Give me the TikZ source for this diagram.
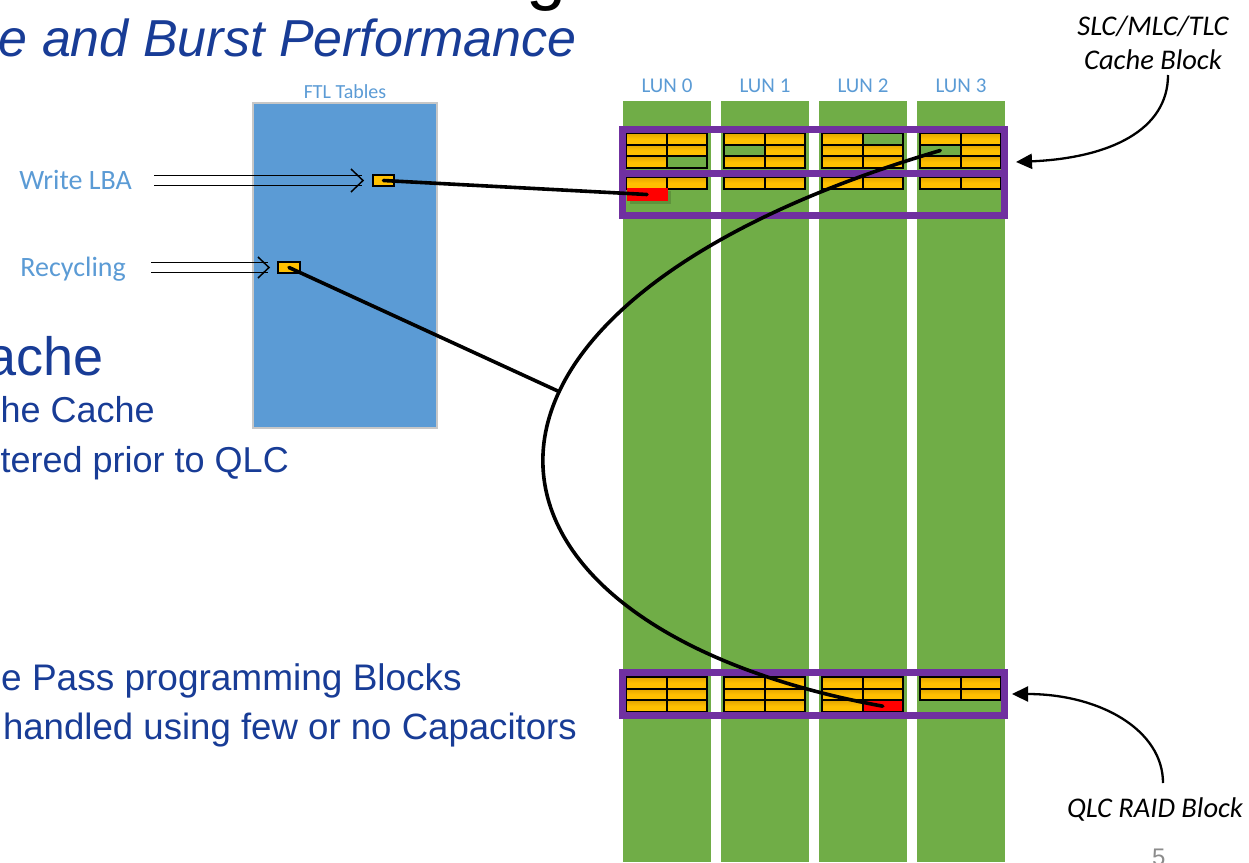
\documentclass[tikz,border=0pt]{standalone}
\usepackage{fontspec}
\setmainfont{Liberation Sans}
\newfontfamily\calibri{Carlito}
\usetikzlibrary{arrows.meta}
\definecolor{lungreen}{HTML}{70AD47}
\definecolor{cellyel}{HTML}{FFC000}
\definecolor{celltop}{HTML}{E3A500}
\definecolor{blkpurple}{HTML}{7030A0}
\definecolor{ftlblue}{HTML}{5B9BD5}
\definecolor{txtblue}{HTML}{183C96}
\definecolor{pagegray}{HTML}{8C8C8C}
\newcommand{\dblarr}[4]{%
  \draw[dbl] ([yshift=5.2pt]#1) -- ([yshift=5.2pt,xshift=-1.5pt]#2);
  \draw[dbl] ([yshift=-5.2pt]#1) -- ([yshift=-5.2pt,xshift=-1.5pt]#2);
  \draw[dbl] ([xshift=-#3,yshift=#4]#2) -- (#2) -- ([xshift=-#3,yshift=-#4]#2);}
\begin{document}
\begin{tikzpicture}[x=1pt,y=-1pt,
  lun/.style={fill=lungreen, inner sep=0pt, outer sep=0pt, minimum width=88pt, minimum height=761pt, anchor=north west},
  lunlbl/.style={text=ftlblue, inner sep=0pt, anchor=base, font=\calibri\fontsize{21}{25}\selectfont},
  cellbase/.style={draw=black, line width=2pt, inner sep=0pt, outer sep=0pt, minimum width=40.5pt, minimum height=11.67pt, anchor=north west},
  cell/.style={cellbase, top color=celltop, bottom color=cellyel, middle color=cellyel},
  gcell/.style={cellbase, fill=lungreen},
  rcell/.style={cellbase, fill=red},
  pblock/.style={draw=blkpurple, line width=7pt, inner sep=0pt, outer sep=0pt, minimum width=382pt, anchor=north west},
  link/.style={draw=black, line width=3.6pt, line cap=round},
  callout/.style={draw=black, line width=2.3pt, -{Triangle[length=16pt,width=15pt]}},
  dbl/.style={draw=black, line width=1.5pt},
  sidelbl/.style={text=ftlblue, inner sep=0pt, anchor=base east, font=\calibri\fontsize{28}{32}\selectfont},
  notelbl/.style={text=black, inner sep=0pt, anchor=base, font=\calibri\itshape\fontsize{28.5}{34}\selectfont},
  bullet/.style={text=txtblue, inner sep=0pt, anchor=base east},
]
\useasboundingbox (0,0) rectangle (1249,862);

% left slide text
\node[bullet, font=\itshape\fontsize{52}{60}\selectfont] (title) at (577,56) {e and Burst Performance};
\node[inner sep=0pt, anchor=base west, font=\fontsize{72}{80}\selectfont] (gfrag) at (526,-3) {g};
\node[bullet, font=\fontsize{54}{60}\selectfont] (b1) at (104,375) {ache};
\node[bullet, font=\fontsize{36}{42}\selectfont] (b2) at (155,422) {he Cache};
\node[bullet, font=\fontsize{36}{42}\selectfont] (b3) at (289,472) {tered prior to QLC};
\node[bullet, font=\fontsize{37}{42}\selectfont] (b4) at (462,690) {e Pass programming Blocks};
\node[bullet, font=\fontsize{36.6}{42}\selectfont] (b5) at (577,739) {handled using few or no Capacitors};

% LUN columns
\foreach \i in {0,...,3} {
  \node[lun] (lun\i) at ({623+98*\i},101) {};
  \node[lunlbl] (lunlbl\i) at ({667+98*\i},92) {LUN \i};
}

% cache block cells
\foreach \l in {0,...,3} {
  \foreach \r in {0,1,2} {
    \foreach \h in {0,1} {
      \node[cell] (c\l-\r-\h) at ({626+98*\l+40.5*\h},{133+11.67*\r}) {};
    }
  }
  \foreach \h in {0,1} {
    \node[cell] (d\l-\h) at ({626+98*\l+40.5*\h},177) {};
  }
}
% QLC block cells
\foreach \l/\rows in {0/2,1/2,2/2,3/1} {
  \foreach \r in {0,...,\rows} {
    \foreach \h in {0,1} {
      \node[cell] (q\l-\r-\h) at ({626+98*\l+40.5*\h},{677+11.67*\r}) {};
    }
  }
}
% empty (green) and red cells
\node[gcell] (g0) at (666.5,156.34) {};
\node[gcell] (g1) at (724,144.67) {};
\node[gcell] (g2) at (862.5,133) {};
\node[gcell] (gslot) at (920,144.67) {};
\fill[black, opacity=0.15] (629.5,191) rectangle (671,204);
\node[inner sep=0pt, outer sep=0pt, fill=red, minimum width=41pt, minimum height=13pt, anchor=north west] (redc) at (626.5,188) {};
\node[rcell] (redq) at (862.5,700.34) {};

% purple block outlines
\node[pblock, minimum height=44pt] (cachetop) at (622.5,129.5) {};
\node[pblock, minimum height=42pt] (cachebot) at (622.5,173.5) {};
\node[pblock, minimum height=43pt] (qlcblk) at (622.5,672.5) {};

% FTL tables
\node[fill=ftlblue, draw=black!22, line width=1.5pt, inner sep=0pt, outer sep=0pt, minimum width=184pt, minimum height=325pt, anchor=north west] (ftl) at (253,103) {};
\node[text=ftlblue, inner sep=0pt, anchor=base, font=\calibri\fontsize{20}{24}\selectfont] (ftllbl) at (345,98) {FTL Tables};
\node[cellbase, line width=1.6pt, fill=cellyel, minimum width=21pt, minimum height=11pt] (wcell) at (373,175) {};
\node[cellbase, line width=1.6pt, fill=cellyel, minimum width=22pt, minimum height=11pt] (rcyc) at (278,262) {};

% inputs
\node[sidelbl] (wlba) at (132,189) {Write LBA};
\node[sidelbl] (recyc) at (126,276) {Recycling};
\coordinate (wA) at (154,180.5);
\coordinate (wB) at ([xshift=-10pt]wcell.west);
\coordinate (rA) at (151,267.5);
\coordinate (rB) at ([xshift=-9pt]rcyc.west);
\dblarr{wA}{wB}{12pt}{11.5pt}
\dblarr{rA}{rB}{11pt}{10.5pt}

% links
\draw[link] (wcell.center) -- (redc.center);
\draw[link] (gslot.center) .. controls (400,310) and (440,625) .. (redq.center) coordinate[pos=0.4] (meet);
\draw[link] (rcyc.center) -- (meet);

% callouts
\node[notelbl] (slc) at (1153,35) {SLC/MLC/TLC};
\node[notelbl] (cachelbl) at (1153,69) {Cache Block};
\coordinate (cA) at (1168,75);
\coordinate (cB) at ([xshift=11.5pt,yshift=-10.5pt]cachetop.east);
\draw[callout] (cA) .. controls (1168,130) and (1110,158) .. (cB);
\node[notelbl] (qlclbl) at (1155,817) {QLC RAID Block};
\coordinate (qA) at (1163,783);
\coordinate (qB) at ([xshift=7.5pt]qlcblk.east);
\draw[callout] (qA) .. controls (1163,730) and (1100,694) .. (qB);

% page number
\node[text=pagegray, inner sep=0pt, anchor=base west, font=\fontsize{24}{28}\selectfont] (pgnum) at (1152,865) {5};
\end{tikzpicture}
\end{document}
